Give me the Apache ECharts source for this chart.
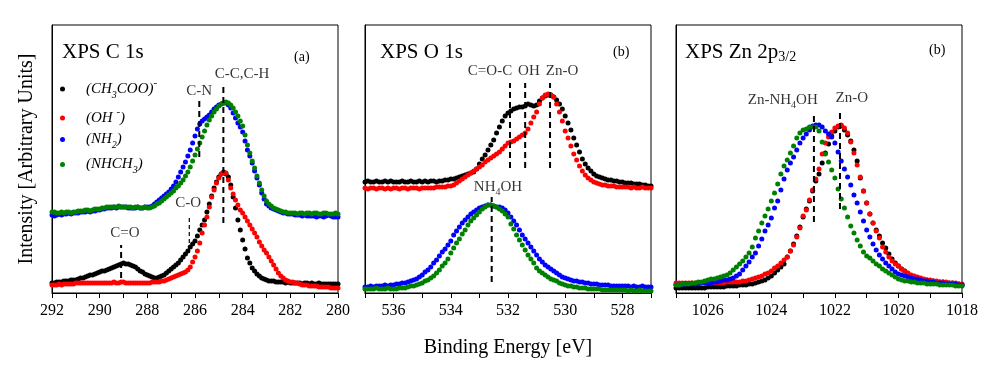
<!DOCTYPE html>
<html>
<head>
<meta charset="utf-8">
<script src="https://cdn.jsdelivr.net/npm/echarts@6/dist/echarts.min.js"></script>
<style>html,body{margin:0;background:#fff}#c{width:993px;height:377px}</style>
</head>
<body>
<div id="c"></div>
<script>
// ---------- data (intensity, arbitrary units, 0.1 eV steps, high -> low binding energy) ----------
const sampleNames = ["(CH3COO)-", "(OH-)", "(NH2)", "(NHCH3)"];
const sampleColors = ["#000000", "#ff0000", "#0000ff", "#008000"];

// C 1s : 292.0 -> 280.0 eV
const c1sStart = 292;
const c1sAcetate = [10,10,11,11,11,12,12,12,13,13,13,
  14,15,15,16,17,18,18,19,20,21, 22,22,23,24,25,26,27,28,29,30,
  29,29,28,27,26,24,22,21,19,18, 17,16,15,15,16,17,18,20,22,24,
  26,28,30,33,36,39,42,46,49,52, 57,63,68,73,81,89,97,105,111,116,
  119,121,119,116,108,96,85,73,63,53, 44,35,30,25,22,19,17,15,14,13,
  12,12,12,11,11,11,11,10,11,10, 10,10,10,10,9,10,10,9,10,9,
  9,10,9,9,9,9,9,9,9,9];
const c1sHydroxide = [8,8,8,9,8,9,9,9,9,9,10,
  10,10,10,10,10,10,10,10,10,10, 10,10,10,10,10,11,10,10,11,11,
  10,10,10,10,10,10,10,10,10,10, 10,11,11,11,11,12,12,13,14,15,
  16,17,18,19,20,21,23,26,31,36, 42,50,60,68,76,86,96,103,110,115,
  119,120,120,113,105,99,93,88,83,80, 76,72,68,64,60,56,51,47,43,40,
  36,32,28,24,20,17,15,13,12,11, 11,10,10,9,8,8,8,7,7,7,
  7,6,6,6,6,6,5,5,5,5];
const c1sAmine = [78,77,78,79,78,79,79,80,79,80,80,
  80,81,81,81,82,81,82,82,83,83, 84,84,85,85,85,86,85,86,86,86,
  86,85,85,85,85,86,85,85,86,86, 86,87,89,91,93,95,97,99,101,104,
  107,111,116,121,126,131,137,143,150,157, 164,169,172,174,176,178,181,184,186,188,
  189,190,190,188,185,180,175,170,166,161, 152,143,137,130,122,115,108,100,94,89,
  87,85,84,83,82,81,80,80,79,79, 79,78,78,78,77,78,77,77,77,77,
  76,77,77,76,77,78,77,76,76,76];
const c1sMethylamine = [81,81,80,80,81,80,81,81,80,81,81,
  82,82,82,83,83,82,83,84,84,84, 85,85,86,86,86,86,86,87,86,86,
  86,86,86,85,86,86,85,85,86,85, 85,86,87,89,90,92,94,96,98,100,
  102,105,107,110,113,117,121,126,132,138, 144,150,156,162,168,173,177,181,184,187,
  189,190,191,190,188,185,181,177,172,167, 158,148,140,132,125,117,110,103,97,92,
  89,87,85,84,83,82,81,81,80,80, 80,80,79,80,80,79,80,80,79,80,
  80,79,79,80,80,79,79,79,80,79];

// O 1s : 537.0 -> 527.0 eV
const o1sStart = 537;
const o1sAcetate = [111,112,111,111,112,111,111,112,111,112,111,
  111,111,112,111,111,112,111,111,112,111, 112,111,112,112,111,112,112,113,113,114,
  114,115,116,117,118,119,120,121,124,129, 134,138,143,148,153,160,166,172,177,180,
  182,184,185,186,186,187,189,188,187,188, 192,195,197,198,198,196,193,189,184,177,
  170,163,155,148,141,134,129,125,122,119, 117,116,115,114,113,113,112,112,111,111,
  110,110,110,109,109,109,108,108,107,107];
const o1sHydroxide = [105,104,105,105,104,105,105,104,105,104,105,
  105,104,105,105,104,105,105,105,104,105, 105,105,105,105,106,106,106,106,107,107,
  108,110,112,114,116,118,120,122,124,126, 128,131,133,135,137,139,141,144,147,150,
  151,152,154,156,158,160,164,170,176,181, 189,195,198,199,198,196,189,181,172,162,
  155,147,139,133,127,122,118,115,113,111, 110,109,108,108,107,107,107,106,106,106,
  106,106,105,106,105,105,106,105,105,105];
const o1sAmine = [6,6,7,6,7,7,7,8,7,8,8,
  9,9,10,10,11,12,13,14,16,18, 21,23,26,30,33,37,41,44,48,52,
  58,62,66,70,73,76,79,81,83,85, 86,87,88,88,87,86,86,85,83,80,
  76,72,68,63,58,54,50,46,42,38, 34,31,28,26,24,22,20,18,16,15,
  14,13,12,12,11,11,10,10,9,9, 9,8,8,8,8,7,7,7,7,7,
  7,7,6,7,6,6,7,6,6,6];
const o1sMethylamine = [4,4,4,4,5,4,4,4,5,4,4,
  4,5,5,5,6,7,7,8,9,10, 12,13,15,17,20,23,27,30,34,40,
  45,50,54,59,63,68,72,75,78,81, 84,86,88,88,87,86,84,82,79,76,
  69,64,58,53,48,43,38,34,30,25, 22,20,18,16,14,13,12,10,9,8,
  7,7,6,6,5,5,5,4,4,4, 4,4,3,3,3,3,3,3,3,3,
  3,2,3,2,2,3,2,2,2,2];

// Zn 2p3/2 : 1027.0 -> 1018.0 eV
const znStart = 1027;
const znAcetate = [5,5,5,5,5,5,5,5,5,5,6,
  6,6,6,6,6,7,7,7,7,8, 8,8,9,9,10,11,12,13,15,17,
  20,23,26,29,36,42,49,57,66,76, 84,92,102,112,119,130,140,149,157,162,
  166,167,163,158,152,143,132,115,102,90, 79,70,63,57,50,45,39,34,30,27,
  24,22,19,17,16,15,14,13,13,12, 12,11,11,11,10,10,10,9,9,8];
const znHydroxide = [10,10,10,10,10,10,10,10,10,10,10,
  10,10,10,10,10,11,11,11,11,11, 12,12,13,14,15,16,17,19,20,22,
  25,27,30,33,36,42,48,56,65,77, 83,93,103,114,124,139,150,156,161,165,
  167,168,165,160,151,140,128,116,102,90, 79,70,62,55,46,41,36,32,29,27,
  24,22,20,18,17,16,15,14,13,13, 12,12,11,11,11,10,10,10,9,9];
const znAmine = [8,8,8,9,9,9,9,9,10,10,10,
  10,11,11,12,13,13,14,15,17,19, 23,27,31,36,40,47,54,62,68,75,
  85,92,103,114,123,130,136,143,150,155, 159,163,167,168,168,166,162,159,156,150,
  141,132,124,116,108,98,90,81,72,63, 56,49,43,38,34,30,27,24,21,19,
  18,17,16,15,14,14,13,12,12,11, 11,10,10,10,9,9,9,9,8,8];
const znMethylamine = [8,8,9,9,9,10,10,11,11,12,13,
  14,14,15,16,17,18,20,23,26,29, 32,36,40,46,55,62,70,77,84,92,
  100,109,119,127,133,140,147,155,160,163, 164,166,166,166,162,151,139,131,123,115,
  104,94,85,76,67,60,53,47,41,37, 35,32,29,27,24,22,20,18,16,14,
  13,12,12,11,11,10,10,10,9,9, 9,9,8,8,8,8,8,7,7,7];

// ---------- peak assignments: dashed line at e (from lo to hi), label centred at (le, li) ----------
const c1sMarks = [
  { e: 289.1, lo: 15, hi: 48, label: "C=O", le: 288.94, li: 60 },
  { e: 286.24, lo: 43, hi: 76, label: "C-O", le: 286.29, li: 90, thin: true },
  { e: 285.82, lo: 136, hi: 196, label: "C-N", le: 285.83, li: 202 },
  { e: 284.81, lo: 70, hi: 208, label: "C-C,C-H", le: 284.03, li: 219 }
];
const o1sMarks = [
  { e: 531.93, lo: 125, hi: 210, label: "C=O-C", le: 532.63, li: 222 },
  { e: 531.4, lo: 125, hi: 210, label: "OH", le: 531.27, li: 222 },
  { e: 530.53, lo: 125, hi: 210, label: "Zn-O", le: 530.11, li: 222 },
  { e: 532.57, lo: 11, hi: 96, label: "NH{s|4}OH", le: 532.35, li: 106 }
];
const znMarks = [
  { e: 1022.66, lo: 71, hi: 181, label: "Zn-NH{s|4}OH", le: 1023.64, li: 193 },
  { e: 1021.84, lo: 84, hi: 181, label: "Zn-O", le: 1021.47, li: 195 }
];

// ---------- build ----------
const FONT = "'Liberation Serif', 'Times New Roman', serif";
const panels = [
  { start: c1sStart, min: 280, max: 292, left: 52, sets: [c1sAcetate, c1sHydroxide, c1sAmine, c1sMethylamine], marks: c1sMarks },
  { start: o1sStart, min: 527, max: 537, left: 365, sets: [o1sAcetate, o1sHydroxide, o1sAmine, o1sMethylamine], marks: o1sMarks },
  { start: znStart, min: 1018, max: 1027, left: 676, sets: [znAcetate, znHydroxide, znAmine, znMethylamine], marks: znMarks }
];

function toPoints(start, arr) {
  return arr.map((v, i) => [Math.round((start - i * 0.1) * 10) / 10, v]);
}

const grid = [], xAxis = [], yAxis = [], series = [];
panels.forEach((p, g) => {
  grid.push({ left: p.left, top: 25, width: 286, height: 268, show: true, borderColor: "#000", borderWidth: 1 });
  xAxis.push({
    type: "value", gridIndex: g, min: p.min, max: p.max, interval: 1, inverse: true,
    axisLine: { show: true, lineStyle: { color: "#000", width: 1 } },
    axisTick: { show: true, length: 5, lineStyle: { color: "#000" } },
    axisLabel: { margin: 10, color: "#000", fontFamily: FONT, fontSize: 16,
      formatter: v => (Math.round(v) % 2 === 0 ? String(Math.round(v)) : "") },
    splitLine: { show: false },
    name: g === 1 ? "Binding Energy [eV]" : "", nameLocation: "middle", nameGap: 45,
    nameTextStyle: { color: "#000", fontFamily: FONT, fontSize: 20 }
  });
  yAxis.push({
    type: "value", gridIndex: g, min: 0, max: 268,
    axisLine: { show: true, lineStyle: { color: "#000" } },
    axisTick: { show: false }, axisLabel: { show: false }, splitLine: { show: false },
    name: g === 0 ? "Intensity [Arbitrary Units]" : "", nameLocation: "middle", nameGap: 15,
    nameTextStyle: { color: "#000", fontFamily: FONT, fontSize: 20 }
  });
  p.sets.forEach((arr, k) => {
    series.push({
      type: "scatter", name: sampleNames[k], xAxisIndex: g, yAxisIndex: g,
      symbol: "circle", symbolSize: 5,
      itemStyle: { color: sampleColors[k], opacity: 1 },
      data: toPoints(p.start, arr), silent: true
    });
  });
  p.marks.forEach(m => {
    series.push({
      type: "line", xAxisIndex: g, yAxisIndex: g, showSymbol: false, silent: true,
      lineStyle: { color: "#000", width: m.thin ? 1.2 : 2, type: m.thin ? [4, 3] : [6, 4] },
      data: [[m.e, m.lo], [m.e, m.hi]], z: 5
    });
  });
  series.push({
    type: "scatter", xAxisIndex: g, yAxisIndex: g, symbolSize: 1, silent: true,
    itemStyle: { color: "rgba(0,0,0,0)" }, z: 6,
    label: { show: true, position: "inside", color: "#000", fontFamily: FONT, fontSize: 15, lineHeight: 20,
      rich: { s: { fontFamily: FONT, fontSize: 10, lineHeight: 8, verticalAlign: "bottom", color: "#000" } } },
    data: p.marks.map(m => ({ value: [m.le, m.li], label: { formatter: m.label } }))
  });
});

const legendText = [
  "{pad| }{t|(CH}{s|3}{t|COO)}{p|-}",
  "{pad| }{t|(OH }{p|-}{t|)}",
  "{pad| }{t|(NH}{s|2}{t|)}",
  "{pad| }{t|(NHCH}{s|3}{t|)}"
];
const legendRich = {
  pad: { width: 16 },
  t: { fontStyle: "italic", fontFamily: FONT, fontSize: 15, lineHeight: 22, color: "#000" },
  s: { fontStyle: "italic", fontFamily: FONT, fontSize: 10, lineHeight: 8, verticalAlign: "bottom", color: "#000" },
  p: { fontFamily: FONT, fontSize: 11, lineHeight: 10, verticalAlign: "top", color: "#000" }
};
const legendTops = [78, 107, 132, 157];
const legend = sampleNames.map((n, k) => ({
  data: [n], left: 60, top: legendTops[k], orient: "vertical", selectedMode: false,
  icon: "circle", itemWidth: 5, itemHeight: 5, padding: 0,
  formatter: () => legendText[k], textStyle: { rich: legendRich }
}));

const titleRich = {
  a: { fontFamily: FONT, fontSize: 21, lineHeight: 24, fill: "#000" },
  s: { fontFamily: FONT, fontSize: 14, lineHeight: 10, verticalAlign: "bottom", fill: "#000" }
};
const graphic = [
  { type: "text", left: 62, top: 42, style: { text: "XPS C 1s", font: "21px " + FONT, fill: "#000" } },
  { type: "text", left: 294, top: 50, style: { text: "(a)", font: "14px " + FONT, fill: "#000" } },
  { type: "text", left: 380, top: 42, style: { text: "XPS O 1s", font: "21px " + FONT, fill: "#000" } },
  { type: "text", left: 613, top: 45, style: { text: "(b)", font: "14px " + FONT, fill: "#000" } },
  { type: "text", left: 685, top: 42, style: { text: "{a|XPS Zn 2p}{s|3/2}", rich: titleRich } },
  { type: "text", left: 929, top: 43, style: { text: "(b)", font: "14px " + FONT, fill: "#000" } }
];

const chart = echarts.init(document.getElementById("c"), null, { renderer: "canvas" });
chart.setOption({
  animation: false,
  backgroundColor: "#fff",
  grid, xAxis, yAxis, series, legend, graphic
});
</script>
</body>
</html>
